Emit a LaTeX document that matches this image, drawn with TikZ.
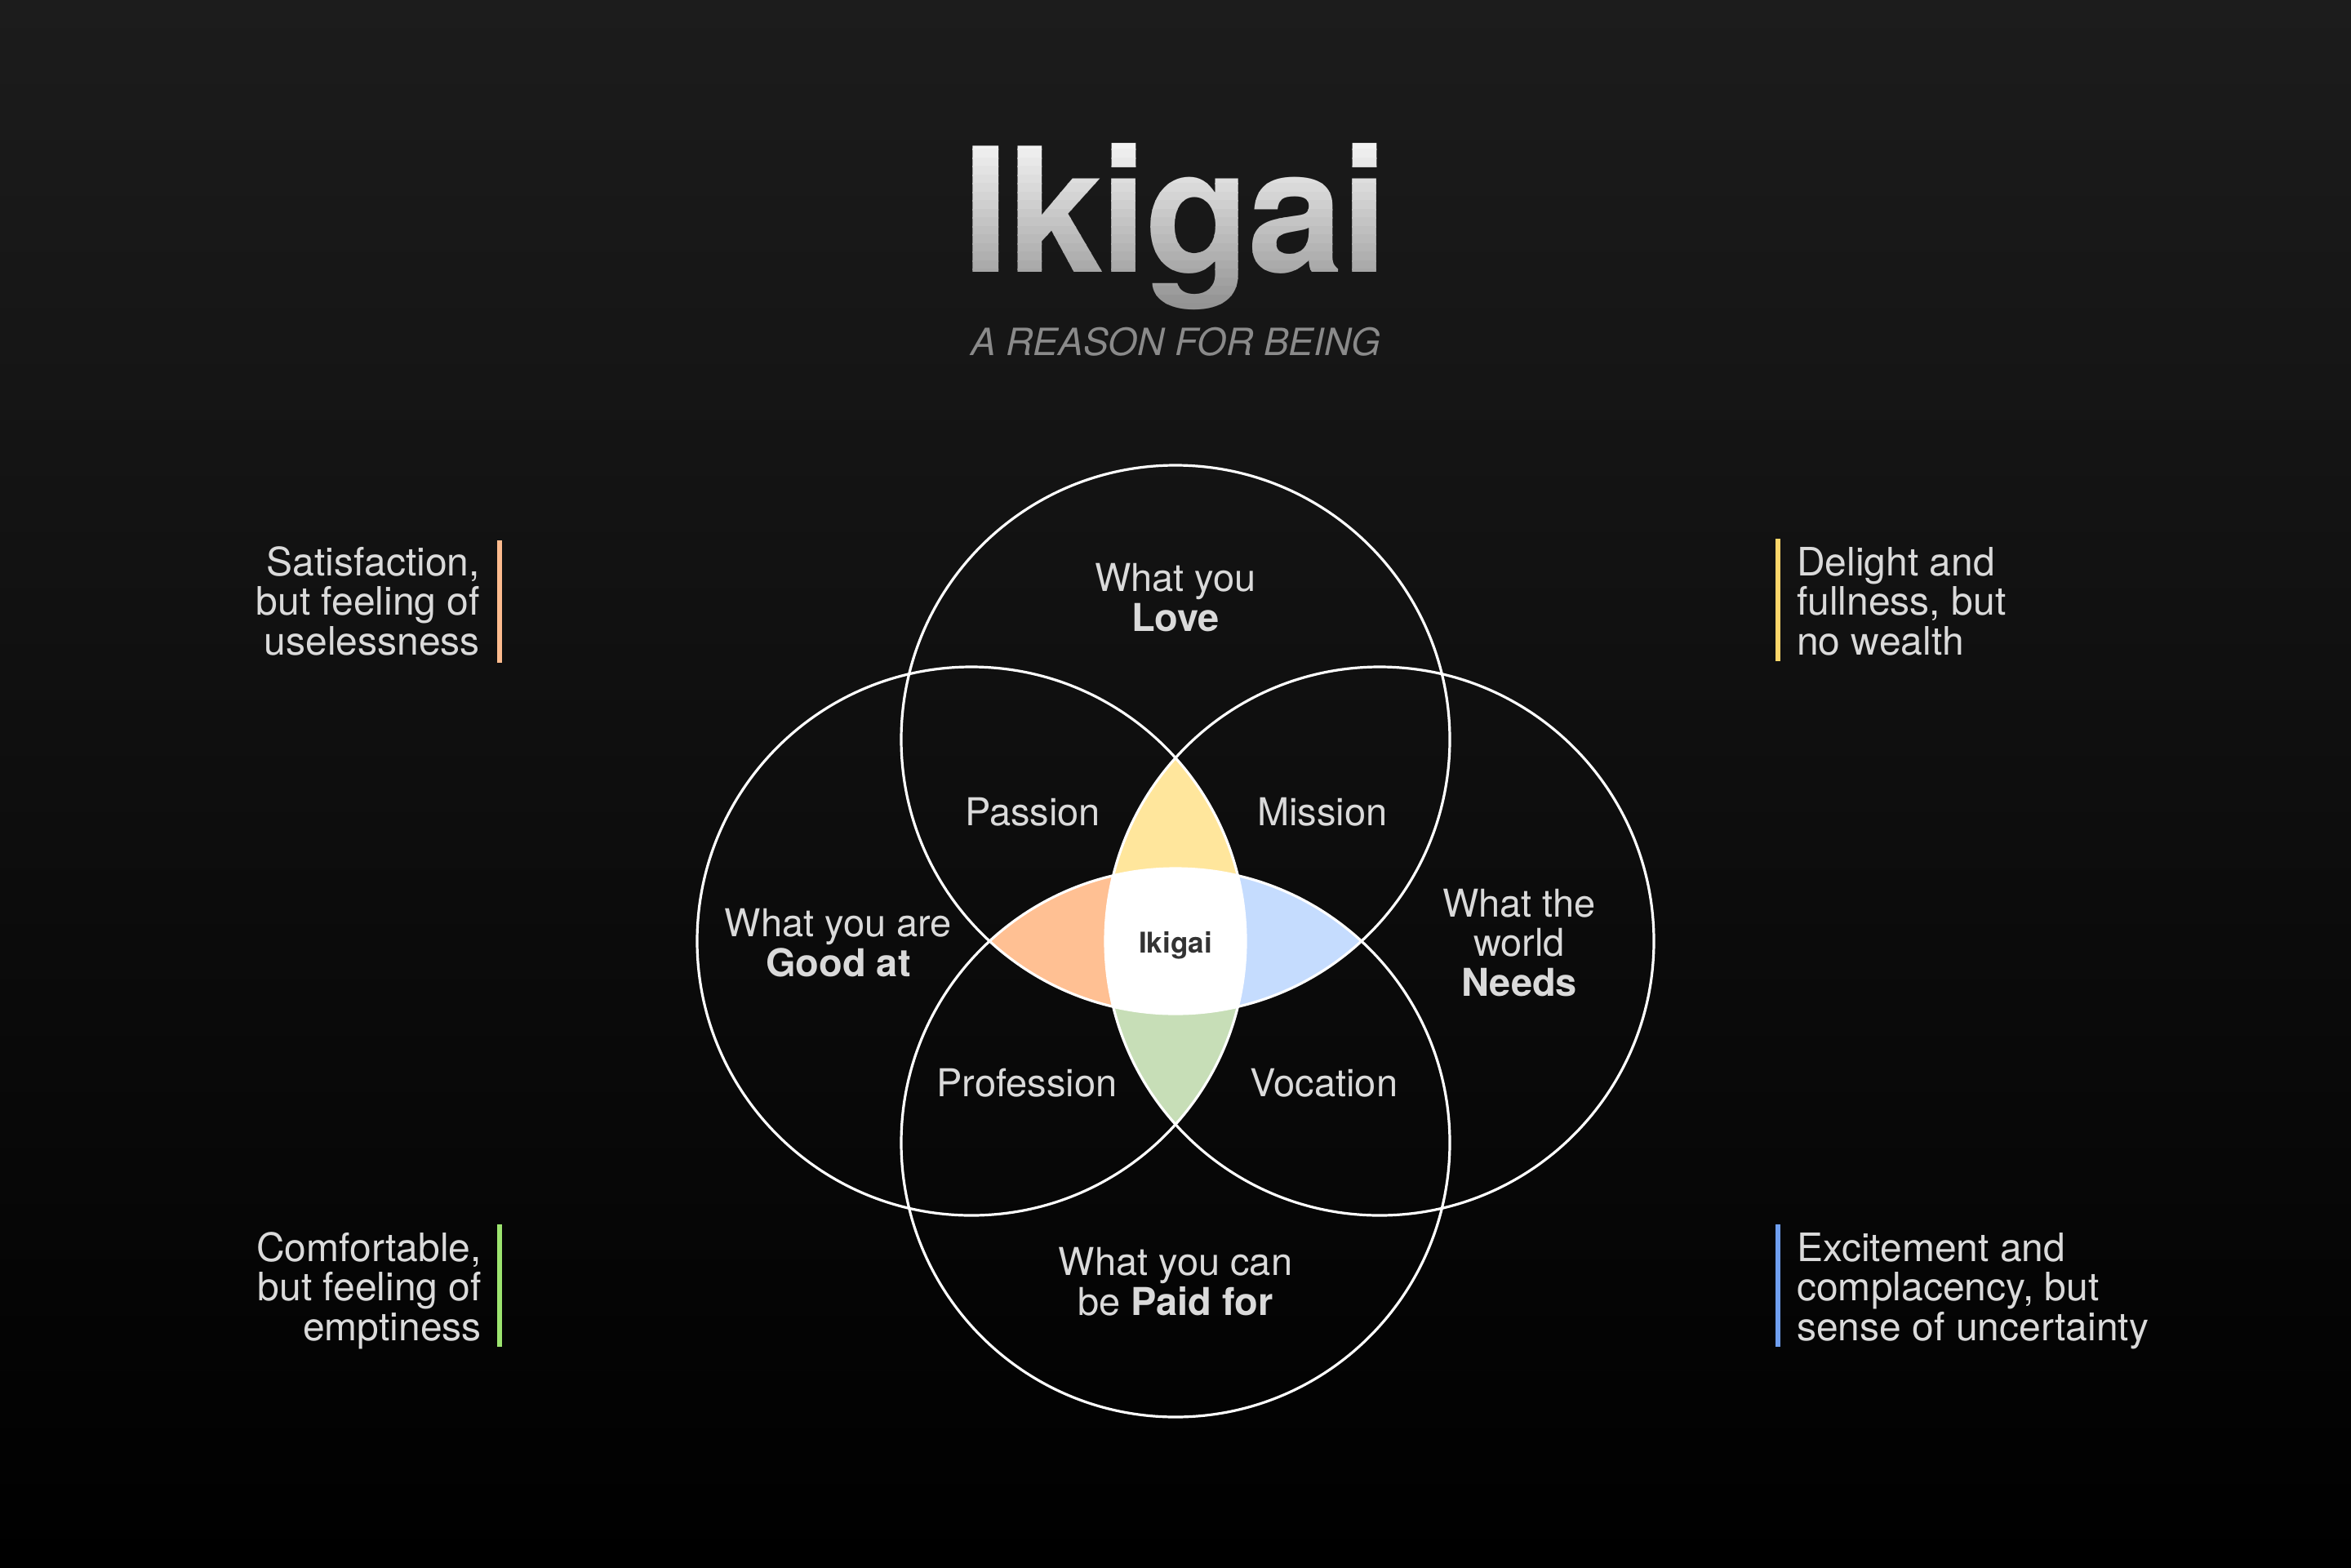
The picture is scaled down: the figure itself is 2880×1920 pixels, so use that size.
\documentclass[tikz,border=0pt]{standalone}
\usepackage{fontspec}
\setmainfont{TeX Gyre Heros}
\definecolor{bgtop}{HTML}{1C1C1C}
\definecolor{lbl}{HTML}{DADADA}
\definecolor{subgray}{HTML}{8A8A8A}
\definecolor{darktxt}{HTML}{333333}
\definecolor{pyellow}{HTML}{FFE69C}
\definecolor{porange}{HTML}{FFC093}
\definecolor{pblue}{HTML}{C5DCFE}
\definecolor{pgreen}{HTML}{C7DEB7}
\definecolor{barorange}{HTML}{FDBB8E}
\definecolor{baryellow}{HTML}{FCD66A}
\definecolor{barblue}{HTML}{6F9FF0}
\definecolor{bargreen}{HTML}{9CE46F}
\begin{document}
\begin{tikzpicture}[x=1pt,y=-1pt,
  ring/.style={draw=white,line width=3.2pt},
  lbltext/.style={text=lbl,inner sep=0pt,align=center,anchor=base,font=\fontsize{47}{48.5}\selectfont},
  sidetext/.style={text=lbl,inner sep=0pt,font=\fontsize{48}{48.5}\selectfont},
  sidebar/.style={line width=6pt}]
\useasboundingbox (0,0) rectangle (2880,1920);
\shade[top color=bgtop,bottom color=black] (0,0) rectangle (2880,1920);

% title with vertical gradient (bands)
\foreach \k in {0,...,19}{
  \pgfmathtruncatemacro{\gv}{95-37*\k/19}
  \begin{scope}
    \clip (0,172+\k*10.5) rectangle (2880,172+\k*10.5+11.5);
    \node[anchor=base,inner sep=0pt,text=white!\gv!black,font=\fontsize{212}{220}\selectfont\bfseries] (title\k) at (1440,333)
      {I\kern-4pt k\kern-4pt i\kern-4pt g\kern-4pt a\kern-4pt i};
  \end{scope}
}
\node[anchor=base,inner sep=0pt,text=subgray,font=\fontsize{46}{48}\selectfont\itshape] (subtitle) at (1440,435)
  {A REASON FOR BEING};

% circle centres
\def\R{336pt}
\coordinate (cT) at (1440,906);
\coordinate (cL) at (1190,1153);
\coordinate (cR) at (1690,1153);
\coordinate (cB) at (1440,1400);

% coloured regions
\begin{scope}
  \clip (cT) circle[radius=\R];
  \fill[porange] (cB) circle[radius=\R];
\end{scope}
\begin{scope}
  \clip (cT) circle[radius=\R];
  \clip (cB) circle[radius=\R];
  \fill[pblue] (cR) circle[radius=\R];
\end{scope}
\begin{scope}
  \clip (cL) circle[radius=\R];
  \fill[pyellow] (cR) circle[radius=\R];
\end{scope}
\begin{scope}
  \clip (cL) circle[radius=\R];
  \clip (cR) circle[radius=\R];
  \fill[pgreen] (cB) circle[radius=\R];
\end{scope}
\begin{scope}
  \clip (cL) circle[radius=\R];
  \clip (cR) circle[radius=\R];
  \clip (cB) circle[radius=\R];
  \fill[white] (cT) circle[radius=\R];
\end{scope}

% circle outlines
\draw[ring] (cT) circle[radius=\R];
\draw[ring] (cL) circle[radius=\R];
\draw[ring] (cR) circle[radius=\R];
\draw[ring] (cB) circle[radius=\R];

% circle labels (anchor = baseline of last line)
\node[lbltext] (love) at (1440,773) {What you\\\textbf{Love}};
\node[lbltext] (passion) at (1265,1011) {Passion};
\node[lbltext] (mission) at (1620,1011) {Mission};
\node[lbltext] (good) at (1027,1196) {What you are\\\textbf{Good at}};
\node[lbltext] (needs) at (1861,1220) {What the\\world\\\textbf{Needs}};
\node[anchor=base,inner sep=0pt,text=darktxt,font=\fontsize{35}{36}\selectfont\bfseries] (center) at (1440,1167) {Ikigai};
\node[lbltext] (profession) at (1258,1343) {Profession};
\node[lbltext] (vocation) at (1622,1343) {Vocation};
\node[lbltext] (paid) at (1440,1611) {What you can\\be \textbf{Paid for}};

% side notes
\node[sidetext,align=right,anchor=base east] (sat) at (588,802) {Satisfaction,\\but feeling of\\uselessness};
\draw[sidebar,barorange] (612,662) -- (612,812);
\node[sidetext,align=right,anchor=base east] (comf) at (590,1642) {Comfortable,\\but feeling of\\emptiness};
\draw[sidebar,bargreen] (612,1500) -- (612,1650);
\node[sidetext,align=left,anchor=base west] (del) at (2201,802) {Delight and\\fullness, but\\no wealth};
\draw[sidebar,baryellow] (2178,660) -- (2178,810);
\node[sidetext,align=left,anchor=base west] (exc) at (2201,1642) {Excitement and\\complacency, but\\sense of uncertainty};
\draw[sidebar,barblue] (2178,1500) -- (2178,1650);
\end{tikzpicture}
\end{document}
